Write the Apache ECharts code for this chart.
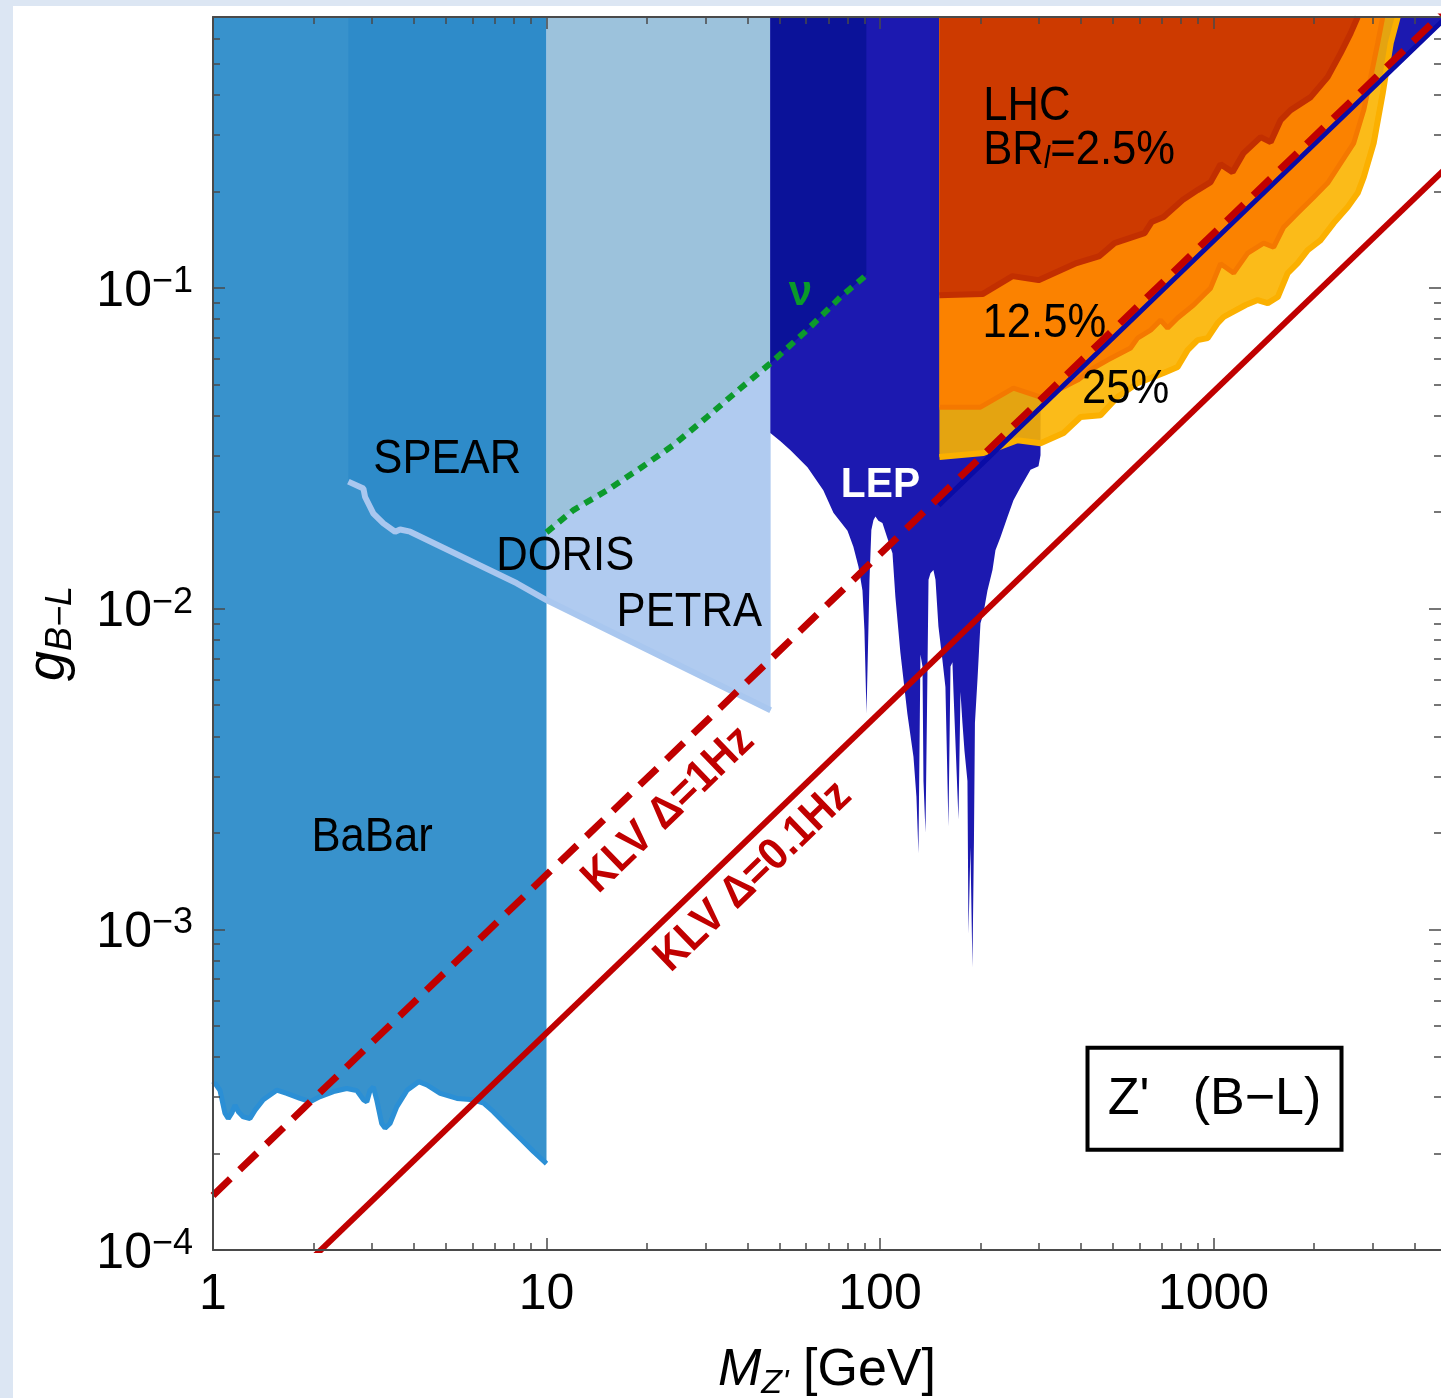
<!DOCTYPE html>
<html>
<head>
<meta charset="utf-8">
<title>Z' (B−L) coupling limits</title>
<script src="https://cdn.jsdelivr.net/npm/echarts@6.0.0/dist/echarts.min.js"></script>
<style>
html,body{margin:0;padding:0;width:1441px;height:1398px;overflow:hidden;background:#dce6f3;}
#panel{position:absolute;left:13px;top:6px;right:0;bottom:0;background:#fff;}
#chart{position:absolute;left:0;top:0;width:1441px;height:1398px;}
</style>
</head>
<body>
<div id="panel"></div>
<div id="chart"></div>
<script>
// ---------------- data (M in GeV, g dimensionless) ----------------
const xMajorTicks = [1, 10, 100, 1000];
const xMinorTicks = [2,3,4,5,6,7,8,9, 20,30,40,50,60,70,80,90, 200,300,400,500,600,700,800,900, 2000,3000,4000];
const yMajorTicks = [1e-4, 1e-3, 1e-2, 1e-1];
const yMinorTicks = [2e-4,3e-4,4e-4,5e-4,6e-4,7e-4,8e-4,9e-4, 2e-3,3e-3,4e-3,5e-3,6e-3,7e-3,8e-3,9e-3,
                     0.02,0.03,0.04,0.05,0.06,0.07,0.08,0.09, 0.2,0.3,0.4,0.5,0.6];

const babarBound = [[1.0,3.27e-4],[1.014,3.31e-4],[1.049,3.15e-4],[1.086,2.67e-4],[1.111,2.57e-4],[1.138,2.67e-4],
  [1.164,2.83e-4],[1.191,2.70e-4],[1.233,2.60e-4],[1.291,2.57e-4],[1.337,2.73e-4],[1.415,2.94e-4],[1.553,3.15e-4],
  [1.664,3.08e-4],[1.824,2.97e-4],[1.954,2.90e-4],[2.096,3.01e-4],[2.297,3.12e-4],[2.518,3.19e-4],[2.699,3.14e-4],
  [2.826,2.94e-4],[2.892,2.90e-4],[2.958,3.15e-4],[3.026,3.22e-4],[3.096,2.94e-4],[3.205,2.48e-4],[3.28,2.40e-4],
  [3.395,2.48e-4],[3.559,2.80e-4],[3.82,3.15e-4],[4.14,3.35e-4],[4.38,3.27e-4],[4.80,3.08e-4],[5.39,2.97e-4],
  [6.04,2.94e-4],[6.48,2.87e-4],[6.93,2.70e-4],[7.60,2.45e-4],[8.33,2.23e-4],[9.13,2.03e-4],[10.0,1.86e-4]];

const spearPetraBound = [[2.546,0.0249],[2.825,0.0237],[2.858,0.0223],[3.027,0.0198],[3.243,0.01845],[3.516,0.01738],
  [3.639,0.01766],[3.90,0.01738],[8.15,0.0120],[10.0,0.01064],[47.0,0.00482]];

const nuBound = [[10,0.0173],[12.05,0.0203],[15.18,0.0234],[19.1,0.0274],[24.05,0.0324],[30.3,0.0396],[38.1,0.0486],
  [46.9,0.0582],[60.4,0.0739],[76.1,0.0937],[89.4,0.108],[91.0,0.110]];

const lepBound = [[46.9,0.0353],[50.3,0.0333],[53.9,0.0312],[60.6,0.0276],[67.6,0.0234],[72.5,0.0199],[79.9,0.0175],
  [83.2,0.0156],[86.2,0.0135],[88.6,0.0114],[89.8,0.0086],[91.1,0.0047],[92.3,0.0086],[93.0,0.0123],[94.2,0.0176],
  [95.6,0.0189],[96.9,0.0194],[98.9,0.0188],[101.7,0.0185],[105.2,0.0166],[109.0,0.0149],[111.2,0.0109],[115.1,0.0073],
  [120.8,0.0047],[126.0,0.00345],[128.6,0.00259],[130.4,0.00173],[131.8,0.0052],[132.2,0.0072],[134.1,0.0066],
  [135.0,0.0029],[136.9,0.0020],[138.3,0.0047],[139.8,0.0123],[141.7,0.0129],[144.6,0.0132],[146.7,0.0123],
  [149.7,0.0088],[153.9,0.0069],[157.1,0.0057],[160.4,0.0021],[162.7,0.0066],[164.9,0.0068],[166.1,0.0055],
  [171.9,0.0022],[174.3,0.0055],[176.7,0.0044],[179.2,0.0036],[182.9,0.0029],[184.2,0.00097],[186.7,0.0018],
  [189.3,0.00076],[191.3,0.0019],[192.6,0.0044],[196.0,0.0060],[200.1,0.0090],[204.3,0.0097],[210.0,0.0114],
  [217.4,0.0132],[221.9,0.0152],[229.7,0.0167],[241.1,0.0193],[251.3,0.0218],[263.8,0.0239],[282.7,0.0271],
  [298.7,0.0278],[302.9,0.0301],[302.9,0.0328]];
const lepDiag = [[150,0.021],[303,0.0424],[5000,0.70]];

const lhc25Bound = [[150.7,0.0297],[204.3,0.0306],[258.4,0.0335],[302.9,0.0328],[355,0.0353],[399.3,0.0396],[458.4,0.0401],
  [515.6,0.0457],[592,0.0505],[708.6,0.0543],[780.4,0.0567],[836.3,0.0640],[896.1,0.0688],[960.1,0.0698],[1029,0.0777],
  [1072,0.0812],[1125,0.0835],[1248,0.0885],[1357,0.0917],[1454,0.0897],[1558,0.0937],[1669,0.1113],[1788,0.1196],
  [1916,0.1313],[2096,0.1411],[2292,0.1594],[2526,0.1788],[2706,0.1977],[2821,0.2217],[3022,0.283],[3217,0.405],
  [3399,0.58],[3567,0.70]];
const lhc125Bound = [[150.7,0.0425],[200.1,0.0425],[251.3,0.0487],[302.9,0.0457],[340.6,0.0480],[391.1,0.0516],
  [436.9,0.0563],[481.3,0.0596],[564.1,0.0650],[592,0.0698],[647.6,0.0739],[693.9,0.0794],[728.4,0.0750],[780.4,0.0806],
  [871.5,0.0885],[980.2,0.0999],[1050,0.119],[1149,0.1113],[1266,0.1285],[1414,0.138],[1515,0.1341],[1623,0.1548],
  [1788,0.1713],[1997,0.192],[2199,0.2124],[2406,0.2451],[2633,0.283],[2821,0.3587],[2960,0.4545],[3107,0.58],[3217,0.70]];
const lhc2p5Bound = [[150.7,0.0950],[202.9,0.0957],[249.6,0.1089],[298.7,0.1058],[388.5,0.1196],[455.2,0.1258],[505,0.138],
  [621.3,0.1483],[652.1,0.1605],[708.6,0.1664],[807.8,0.188],[896.1,0.202],[980.2,0.2139],[1050,0.2433],[1141,0.2298],
  [1231,0.2634],[1385,0.2955],[1484,0.2851],[1590,0.334],[1703,0.3587],[1956,0.3938],[2199,0.4545],[2406,0.54],
  [2578,0.6234],[2706,0.70]];

const klv1Hz = [[1,1.48e-4],[5000,0.74]];
const klv01Hz = [[1,4.75e-5],[5000,0.2375]];

// ---------------- layout / style ----------------
const FONT = "'Liberation Sans', Arial, Helvetica, sans-serif";
const FRAME = '#4a4a4a';
const X_MAX = 4810;

const NOTES = [
  {text:'BaBar', at:[3.0,1.94e-3]},
  {text:'SPEAR', at:[5.04,0.0291]},
  {text:'DORIS', at:[11.38,0.01459]},
  {text:'PETRA', at:[26.8,0.00976]},
  {text:'12.5%', at:[311,0.0777]},
  {text:'25%', at:[545,0.0484]},
  {text:'LHC', at:[204,0.369], style:{align:'left'}},
  {text:'{a|BR}{l|l}{a|=2.5%}', at:[204,0.269], style:{align:'left', rich:{
      a:{fontSize:49, fontFamily:FONT, fill:'#000'},
      l:{fontSize:32, fontFamily:FONT, fontStyle:'italic', fill:'#000', verticalAlign:'bottom', lineHeight:32, padding:[26,0,0,0]}}}},
  {text:'LEP', at:[100.3,0.0243], sx:0.97, style:{fill:'#fff', fontWeight:'bold', fontSize:42}},
  {text:'ν', at:[57.7,0.0964], sx:1, style:{fill:'#0a9a2a', fontWeight:'bold', fontSize:42}},
  {text:'KLV Δ=1Hz', at:[23.2,2.36e-3], along:'k1', sx:0.92, style:{fill:'#c00000', fontWeight:'bold', fontSize:45}},
  {text:'KLV Δ=0.1Hz', at:[41.7,1.46e-3], along:'k01', sx:0.92, style:{fill:'#c00000', fontWeight:'bold', fontSize:45}}
];
const BOX_AT = [1007, 2.96e-4];

function renderNotes(params, api) {
  const kids = [];
  const base = {fill:'#000', fontSize:49, fontFamily:FONT, align:'center', verticalAlign:'middle'};
  const lines = {k1: klv1Hz, k01: klv01Hz};
  NOTES.forEach(n => {
    const p = api.coord(n.at);
    let rot = 0;
    if (n.along) {
      const a = api.coord(lines[n.along][0]), b = api.coord(lines[n.along][1]);
      rot = Math.atan2(a[1] - b[1], b[0] - a[0]);
    }
    kids.push({type:'text', x:p[0], y:p[1], rotation:rot, scaleX:(n.sx || 0.89),
      style:Object.assign({}, base, n.style || {}, {text:n.text})});
  });
  const c = api.coord(BOX_AT);
  kids.push({type:'rect', shape:{x:c[0]-127, y:c[1]-51, width:254, height:102},
    style:{fill:'#fff', stroke:'#000', lineWidth:4}});
  kids.push({type:'text', x:c[0], y:c[1]+1, style:Object.assign({}, base, {fontSize:52, text:"Z'   (B−L)"})});
  return {type:'group', children:kids};
}

function region(name, data, fill, opt) {
  opt = opt || {};
  return {
    type:'line', name:name, data:data, symbol:'none', silent:true, animation:false, z:2,
    lineStyle: opt.line ? {color:opt.line, width:opt.lw || 5} : {width:0, opacity:0},
    areaStyle: {origin:'end', color:fill, opacity:(opt.opacity == null ? 1 : opt.opacity)}
  };
}
function curve(name, data, color, width, type) {
  return {type:'line', name:name, data:data, symbol:'none', silent:true, animation:false, z:3,
    lineStyle:{color:color, width:width, type:type || 'solid', cap:'butt'}};
}

const tickStyle = {color:FRAME, width:1.5};
function xAx(pos, major) {
  return {
    type:'log', logBase:10, min:1, max:X_MAX, position:pos, z:10, silent:true,
    splitLine:{show:false},
    axisLine:{show:major, lineStyle:{color:FRAME, width:2}},
    axisTick:{show:true, inside:true, length:major ? 12 : 7, customValues:major ? xMajorTicks : xMinorTicks, lineStyle:tickStyle},
    axisLabel:(major && pos === 'bottom') ? {show:true, customValues:xMajorTicks, fontSize:50, fontFamily:FONT, color:'#000', margin:20,
      formatter:v => String(Math.round(v))} : {show:false}
  };
}
function yAx(pos, major) {
  return {
    type:'log', logBase:10, min:1e-4, max:0.7, position:pos, z:10, silent:true,
    splitLine:{show:false},
    axisLine:{show:major && pos === 'left', lineStyle:{color:FRAME, width:2}},
    axisTick:{show:true, inside:true, length:major ? 12 : 7, customValues:major ? yMajorTicks : yMinorTicks, lineStyle:tickStyle},
    axisLabel:(major && pos === 'left') ? {show:true, customValues:yMajorTicks, fontFamily:FONT, color:'#000', margin:20,
      padding:[8,0,0,0],
      formatter:v => { const e = Math.round(Math.log10(v)); return '{b|10}{s|' + (e < 0 ? '−' : '') + Math.abs(e) + '}'; },
      rich:{b:{fontSize:50, fontFamily:FONT, color:'#000', lineHeight:56}, s:{fontSize:36, fontFamily:FONT, color:'#000', lineHeight:24, verticalAlign:'top'}}}
      : {show:false}
  };
}

const xAxes = [xAx('bottom', true), xAx('bottom', false), xAx('top', true), xAx('top', false)];
Object.assign(xAxes[0], {
  name:"{m|M}{s|Z'}{r| [GeV]}", nameLocation:'middle', nameGap:91,
  nameTextStyle:{fontSize:52, fontFamily:FONT, color:'#000', rich:{
    m:{fontSize:52, fontFamily:FONT, fontStyle:'italic', color:'#000', lineHeight:60},
    s:{fontSize:34, fontFamily:FONT, fontStyle:'italic', color:'#000', verticalAlign:'bottom', lineHeight:34, padding:[30,0,0,0]},
    r:{fontSize:52, fontFamily:FONT, color:'#000', lineHeight:60}}}
});
const yAxes = [yAx('left', true), yAx('left', false), yAx('right', true), yAx('right', false)];
Object.assign(yAxes[0], {
  name:'{g|g}{s|B−L}', nameLocation:'middle', nameGap:134, nameRotate:90,
  nameTextStyle:{fontSize:54, fontFamily:FONT, color:'#000', rich:{
    g:{fontSize:54, fontFamily:FONT, fontStyle:'italic', color:'#000', lineHeight:60},
    s:{fontSize:36, fontFamily:FONT, fontStyle:'italic', color:'#000', verticalAlign:'bottom', lineHeight:36, padding:[30,0,0,0]}}}
});

const series = [
  region('BaBar', babarBound, '#3892cc', {line:'#2b8fd5', lw:5}),
  region('SPEAR', spearPetraBound.filter(p => p[0] <= 10), '#2e8bc9'),
  region('DORIS/PETRA', spearPetraBound.filter(p => p[0] >= 10), '#b0cbf0'),
  region('nu (low)', nuBound.filter(p => p[0] <= 47), '#9cc2dc'),
  region('LEP', lepBound.concat(lepDiag.filter(p => p[0] >= 303)), '#1c19b0'),
  region('nu (high)', nuBound.filter(p => p[0] >= 46.9), '#0b1299'),
  region('LHC 25%', lhc25Bound, '#fbb400', {line:'#fbb000', lw:6, opacity:0.9}),
  region('LHC 12.5%', lhc125Bound, '#fb8200', {line:'#f47800', lw:5}),
  region('LHC 2.5%', lhc2p5Bound, '#cd3a00', {line:'#c22f00', lw:6}),
  curve('SPEAR/PETRA edge', spearPetraBound, '#a9c7ef', 6),
  curve('nu', nuBound, '#0c9a2c', 6, [9, 7]),
  curve('LEP contact', lepDiag, '#0a0ca6', 5),
  curve('KLV 1Hz', klv1Hz, '#c00000', 7, [24, 13]),
  curve('KLV 0.1Hz', klv01Hz, '#c00000', 6),
  {type:'custom', name:'notes', coordinateSystem:'cartesian2d', data:[[1, 1e-3]], renderItem:renderNotes,
   silent:true, animation:false, z:20, clip:false}
];

const chart = echarts.init(document.getElementById('chart'), null, {renderer:'canvas'});
chart.setOption({
  backgroundColor:'transparent',
  animation:false,
  textStyle:{fontFamily:FONT},
  grid:{left:213, top:17, right:0, bottom:148, containLabel:false, outerBoundsMode:'none'},
  xAxis:xAxes,
  yAxis:yAxes,
  series:series
});
</script>
</body>
</html>
